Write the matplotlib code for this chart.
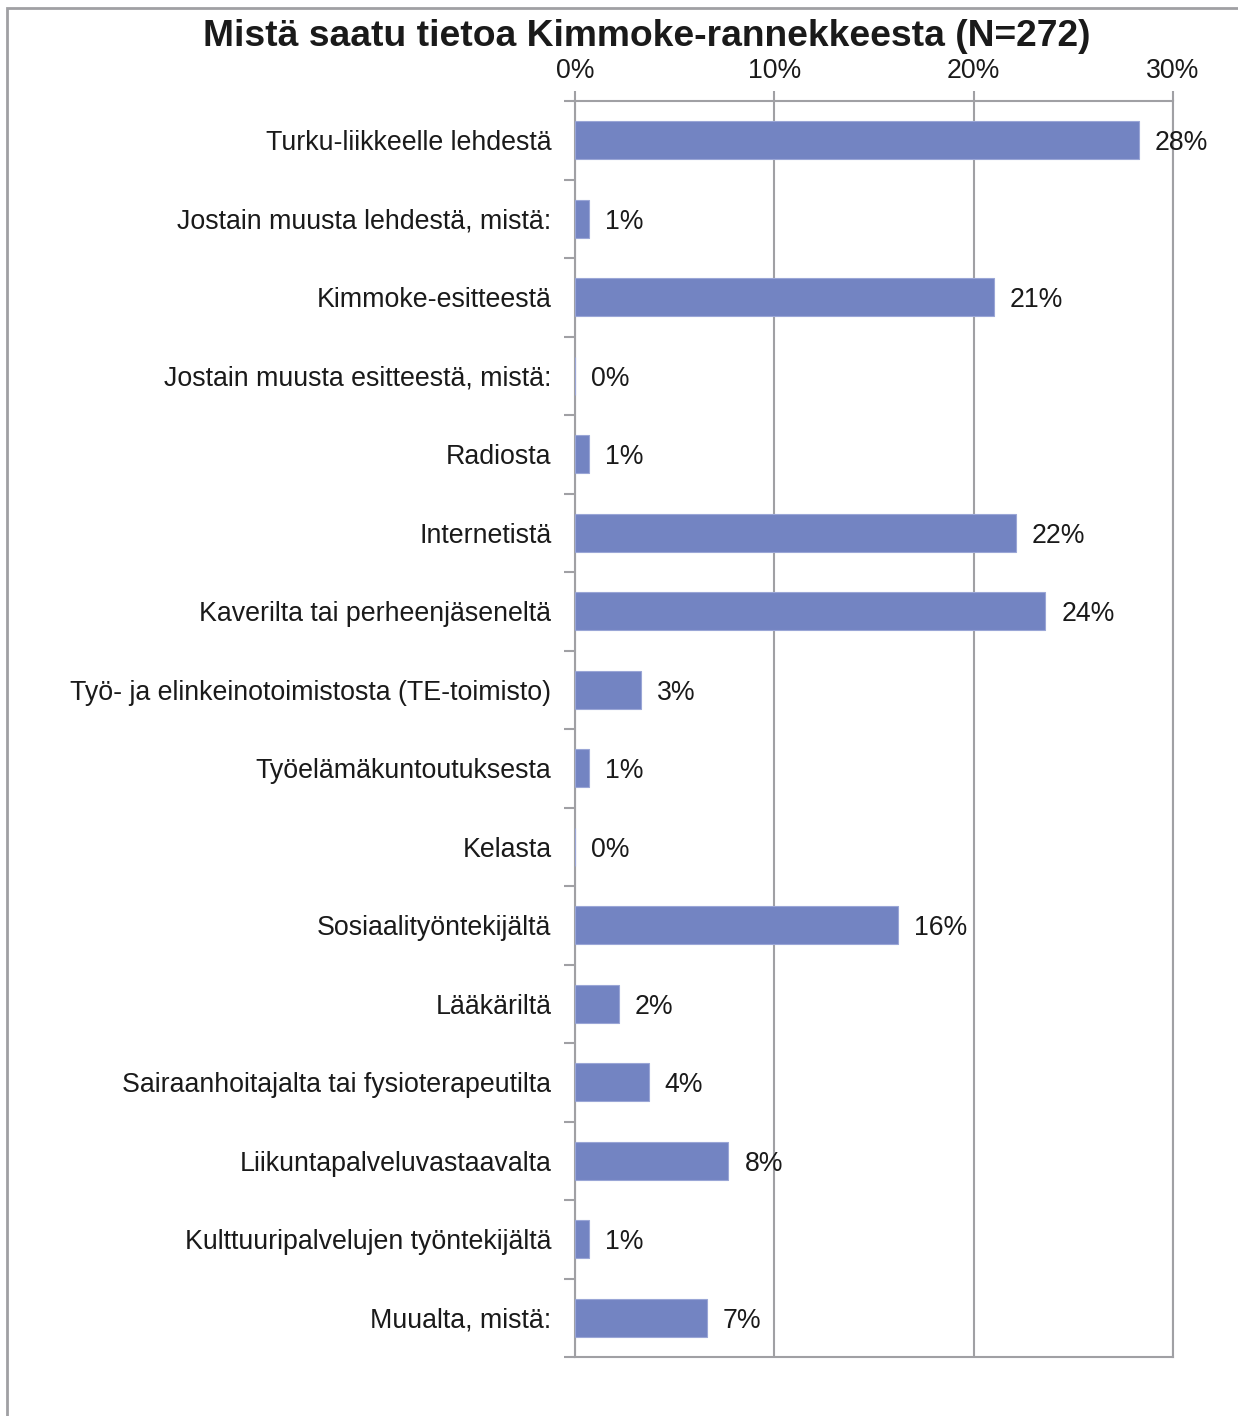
import matplotlib.pyplot as plt
from matplotlib.patches import Rectangle
from matplotlib.ticker import FuncFormatter, FixedLocator

plt.rcParams["font.family"] = ["Liberation Sans", "DejaVu Sans"]

categories = [
    "Turku-liikkeelle lehdestä",
    "Jostain muusta lehdestä, mistä:",
    "Kimmoke-esitteestä",
    "Jostain muusta esitteestä, mistä:",
    "Radiosta",
    "Internetistä",
    "Kaverilta tai perheenjäseneltä",
    "Työ- ja elinkeinotoimistosta (TE-toimisto)",
    "Työelämäkuntoutuksesta",
    "Kelasta",
    "Sosiaalityöntekijältä",
    "Lääkäriltä",
    "Sairaanhoitajalta tai fysioterapeutilta",
    "Liikuntapalveluvastaavalta",
    "Kulttuuripalvelujen työntekijältä",
    "Muualta, mistä:",
]
values = [28.3, 0.7, 21.0, 0.0, 0.7, 22.1, 23.6, 3.3, 0.7, 0.0, 16.2, 2.2, 3.7, 7.7, 0.7, 6.6]
labels = ["28%", "1%", "21%", "0%", "1%", "22%", "24%", "3%", "1%", "0%", "16%", "2%", "4%", "8%", "1%", "7%"]

W, H = 1238, 1416
fig = plt.figure(figsize=(W / 100, H / 100), dpi=100)
ax = fig.add_axes([575 / W, 1 - 1357 / H, (1173 - 575) / W, (1357 - 101) / H])

grey = "#a0a0a4"
txt = "#1a1a1a"
bar_color = "#7384c2"
pos = list(range(len(categories)))
ax.barh(pos, values, height=0.49, color=bar_color, edgecolor="#9aa6d6", linewidth=0.8, zorder=3)

ax.set_xlim(0, 30)
ax.set_ylim(len(categories) - 0.5, -0.5)
ax.xaxis.tick_top()
ax.set_xticks([0, 10, 20, 30])
ax.xaxis.set_major_formatter(FuncFormatter(lambda v, p: f"{v:.0f}%"))
ax.grid(axis="x", color=grey, linewidth=1.5, zorder=0)
ax.tick_params(axis="x", length=7, width=1.5, color=grey, labelsize=19.2, pad=5, labelcolor=txt)

ax.set_yticks(pos)
ax.set_yticklabels(categories)
ax.tick_params(axis="y", length=0, labelsize=19.3, pad=17, labelcolor=txt)
ax.yaxis.set_minor_locator(FixedLocator([p - 0.5 for p in pos] + [len(pos) - 0.5]))
ax.tick_params(axis="y", which="minor", length=8, width=1.5, color=grey)

for s in ax.spines.values():
    s.set_color(grey)
    s.set_linewidth(1.5)

for p, v, lab in zip(pos, values, labels):
    ax.annotate(lab, (v, p), xytext=(11.5, 0), textcoords="offset points",
                va="center_baseline", ha="left", fontsize=19.2, color=txt, zorder=4)

fig.text(646.5 / W, 1 - 37 / H, "Mistä saatu tietoa Kimmoke-rannekkeesta (N=272)",
         ha="center", va="center", fontsize=26.8, fontweight="bold", color=txt)

fig.patches.append(Rectangle((7 / W, -0.1), 1.2, 1 - 8 / H + 0.1, transform=fig.transFigure,
                             fill=False, edgecolor=grey, linewidth=2))

fig.savefig("out.png", dpi=100)
